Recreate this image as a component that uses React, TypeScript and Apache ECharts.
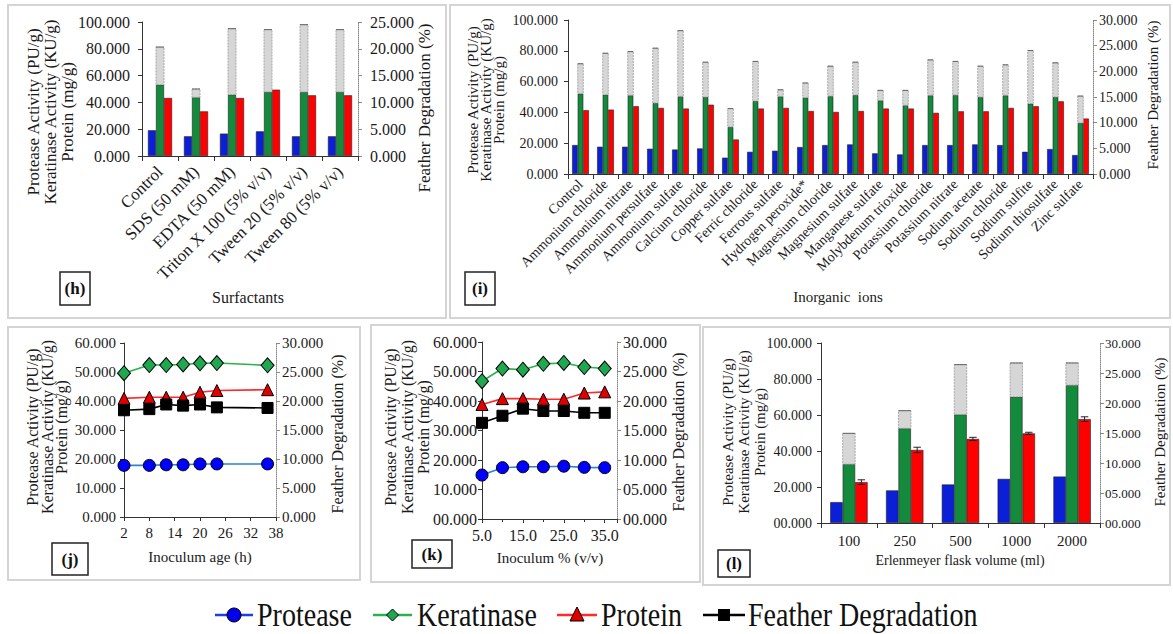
import React, { useEffect, useRef } from "react";
import * as echarts from "echarts";

// ---------- Panel (h) Surfactants ----------
const hCats = ["Control", "SDS (50 mM)", "EDTA (50 mM)", "Triton X 100 (5% v/v)", "Tween 20 (5% v/v)", "Tween 80 (5% v/v)"];
const hProtease = [19.2, 14.7, 16.7, 18.4, 14.7, 14.7];
const hKeratinase = [53.2, 43.8, 45.8, 47.8, 47.8, 47.8];
const hProtein = [43.3, 33.3, 43.3, 49.5, 45.3, 45.3];
const hKeratinaseErrTop = [81.3, 50.0, 95.0, 94.3, 98.0, 94.3];

// ---------- Panel (i) Inorganic ions ----------
const iCats = [
  "Control", "Ammonium chloride", "Ammonium nitrate", "Ammonium persulfate", "Ammonium sulfate",
  "Calcium chloride", "Copper sulfate", "Ferric chloride", "Ferrous sulfate", "Hydrogen peroxide*",
  "Magnesium chloride", "Magnesium sulfate", "Manganese sulfate", "Molybdenum trioxide", "Potassium chloride",
  "Potassium nitrate", "Sodium acetate", "Sodium chloride", "Sodium sulfite", "Sodium thiosulfate", "Zinc sulfate",
];
const iProtease = [18.8, 17.7, 17.7, 16.4, 15.9, 16.6, 10.6, 14.4, 15.1, 17.5, 18.8, 19.2, 13.4, 12.7, 18.8, 18.8, 19.2, 18.8, 14.4, 16.2, 12.3];
const iKeratinase = [52.2, 51.5, 51.1, 46.1, 50.4, 50.0, 30.6, 47.4, 50.4, 49.6, 50.6, 51.3, 47.8, 44.6, 51.1, 51.3, 50.0, 51.1, 45.7, 50.0, 33.2];
const iProtein = [41.4, 41.8, 44.0, 42.9, 42.5, 45.0, 22.4, 42.5, 42.9, 40.9, 40.3, 40.9, 42.5, 42.5, 39.7, 40.7, 40.7, 42.9, 44.0, 47.2, 36.0];
const iKeratinaseErrTop = [71.6, 78.4, 79.5, 81.7, 93.1, 72.6, 42.5, 73.1, 54.7, 59.1, 70.0, 72.6, 54.3, 54.3, 74.1, 73.1, 70.0, 70.9, 80.2, 72.2, 50.6];

// ---------- Panel (j) Inoculum age ----------
const jAge = [2, 8, 12, 16, 20, 24, 36];
const jProtease = [17.8, 17.8, 18.0, 18.0, 18.3, 18.3, 18.3];
const jKeratinase = [49.6, 52.4, 52.4, 52.6, 53.0, 53.1, 52.3];
const jProtein = [40.9, 41.3, 41.3, 41.3, 43.0, 43.6, 43.9];
const jFeather = [18.4, 18.6, 19.4, 19.2, 19.4, 18.9, 18.8];

// ---------- Panel (k) Inoculum % ----------
const kInoculum = [5, 10, 15, 20, 25, 30, 35];
const kProtease = [14.9, 17.4, 17.7, 17.7, 17.9, 17.5, 17.4];
const kKeratinase = [46.7, 51.0, 50.6, 52.6, 52.9, 51.5, 51.0];
const kProtein = [38.8, 40.8, 40.8, 40.6, 40.6, 42.7, 43.1];
const kFeather = [16.3, 17.5, 18.7, 18.3, 18.3, 18.0, 18.0];

// ---------- Panel (l) Erlenmeyer flask volume ----------
const lCats = ["100", "250", "500", "1000", "2000"];
const lProtease = [11.6, 18.1, 21.4, 24.5, 25.8];
const lKeratinase = [32.7, 52.6, 60.3, 70.1, 76.6];
const lProtein = [22.7, 40.6, 46.7, 49.8, 57.7];
const lKeratinaseErrTop = [49.8, 62.4, 88.0, 88.9, 88.9];
const lProteinErr = [1.3, 1.5, 0.9, 0.6, 1.3];

const legendNames = ["Protease", "Keratinase", "Protein", "Feather Degradation"];

const SERIF = "Liberation Serif";
const BLUE = "#0b1fd6";
const GREEN = "#138a3c";
const RED = "#ff0000";
const CAT_GAP = 0.33;

const fmt3 = (v: number) => v.toFixed(3);
const fmtPad = (v: number) => (v < 10 ? "0" + v.toFixed(3) : v.toFixed(3));

function leftY(grid: number, max: number, interval: number, fs: number, margin: number, fmt: (v: number) => string) {
  return {
    gridIndex: grid, type: "value", min: 0, max, interval, position: "left",
    splitLine: { show: false },
    axisLine: { show: true, lineStyle: { color: "#333", width: 1 } },
    axisTick: { show: true, length: 4, lineStyle: { color: "#333" } },
    axisLabel: { fontSize: fs, fontFamily: SERIF, color: "#1a1a1a", margin, formatter: fmt },
  };
}
function rightY(grid: number, max: number, interval: number, fs: number, margin: number, fmt: (v: number) => string) {
  return {
    gridIndex: grid, type: "value", min: 0, max, interval, position: "right",
    splitLine: { show: false },
    axisLine: { show: true, lineStyle: { color: "#888", width: 1, type: "dotted" } },
    axisTick: { show: true, length: 4, lineStyle: { color: "#888" } },
    axisLabel: { fontSize: fs, fontFamily: SERIF, color: "#1a1a1a", margin, formatter: fmt },
  };
}

function barSeries(xi: number, yi: number, name: string, data: number[], color: string) {
  return {
    type: "bar", name, xAxisIndex: xi, yAxisIndex: yi, data,
    barGap: "0%", barCategoryGap: CAT_GAP * 100 + "%",
    itemStyle: { color, borderColor: "#222", borderWidth: 0.6 },
    z: 2,
  };
}

function errBand(xi: number, yi: number, top: number[], base: number[]) {
  return {
    type: "custom", xAxisIndex: xi, yAxisIndex: yi, z: 3,
    data: top.map((t, i) => [i, t, base[i]]),
    encode: { x: 0, y: 1 },
    renderItem: (params: any, api: any) => {
      const ci = api.value(0);
      const p1 = api.coord([ci, api.value(1)]);
      const p0 = api.coord([ci, api.value(2)]);
      const cw = api.size([1, 0])[0];
      const bw = (cw * (1 - CAT_GAP)) / 3;
      return {
        type: "group",
        children: [
          { type: "rect", shape: { x: p1[0] - bw / 2, y: p1[1], width: bw, height: p0[1] - p1[1] },
            style: { fill: "#d6d6d6", stroke: "#999", lineWidth: 0.8, lineDash: [2, 1] } },
          { type: "line", shape: { x1: p1[0] - bw / 2, y1: p1[1], x2: p1[0] + bw / 2, y2: p1[1] },
            style: { stroke: "#666", lineWidth: 1 } },
        ],
      };
    },
  };
}

function smallErr(xi: number, yi: number, vals: number[], errs: number[], offsetBars: number) {
  return {
    type: "custom", xAxisIndex: xi, yAxisIndex: yi, z: 4,
    data: vals.map((v, i) => [i, v, errs[i]]),
    encode: { x: 0, y: 1 },
    renderItem: (params: any, api: any) => {
      const ci = api.value(0);
      const v = api.value(1);
      const e = api.value(2);
      const cw = api.size([1, 0])[0];
      const bw = (cw * (1 - CAT_GAP)) / 3;
      const c = api.coord([ci, v]);
      const x = c[0] + offsetBars * bw;
      const yt = api.coord([ci, v + e])[1];
      const yb = api.coord([ci, v - e])[1];
      const cap = bw * 0.3;
      const st = { stroke: "#222", lineWidth: 1 };
      return {
        type: "group",
        children: [
          { type: "line", shape: { x1: x, y1: yt, x2: x, y2: yb }, style: st },
          { type: "line", shape: { x1: x - cap, y1: yt, x2: x + cap, y2: yt }, style: st },
          { type: "line", shape: { x1: x - cap, y1: yb, x2: x + cap, y2: yb }, style: st },
        ],
      };
    },
  };
}

function lineSeries(xi: number, yi: number, name: string, xs: number[], shift: number, ys: number[], kind: number) {
  const styles = [
    { symbol: "circle", size: 12, line: "#2f7fd6", fill: "#0000ff" },
    { symbol: "diamond", size: [13, 15], line: "#2bb24c", fill: "#1fa84f" },
    { symbol: "triangle", size: 12, line: "#ff2a2a", fill: "#e00000" },
    { symbol: "rect", size: 11, line: "#000000", fill: "#000000" },
  ];
  const s = styles[kind];
  return {
    type: "line", name, xAxisIndex: xi, yAxisIndex: yi,
    data: xs.map((x, i) => [x - shift, ys[i]]),
    symbol: s.symbol, symbolSize: s.size,
    lineStyle: { color: s.line, width: 1.6 },
    itemStyle: { color: s.fill, borderColor: "#000", borderWidth: 1 },
    z: 5 + kind,
  };
}

function frame(x: number, y: number, w: number, h: number) {
  return { type: "rect", shape: { x, y, width: w, height: h }, style: { fill: "none", stroke: "#d4d4d4", lineWidth: 2 }, z: 0 };
}
function tagBox(x: number, y: number, w: number, h: number, label: string) {
  return [
    { type: "rect", shape: { x, y, width: w, height: h }, style: { fill: "#fff", stroke: "#222", lineWidth: 1.5 }, z: 10 },
    { type: "text", x: x + w / 2, y: y + h / 2, style: { text: label, fontSize: 17, fontWeight: "bold", fontFamily: SERIF, fill: "#111", align: "center", verticalAlign: "middle" }, z: 11 },
  ];
}
function vText(x: number, y: number, text: string, fs: number, lh: number) {
  return {
    type: "text", x, y, rotation: Math.PI / 2, z: 10,
    style: { text, fontSize: fs, lineHeight: lh, fontFamily: SERIF, fill: "#1a1a1a", align: "center", verticalAlign: "middle" },
  };
}
function hText(x: number, y: number, text: string, fs: number) {
  return {
    type: "text", x, y, z: 10,
    style: { text, fontSize: fs, fontFamily: SERIF, fill: "#1a1a1a", align: "center", verticalAlign: "middle" },
  };
}

const LEFT_TITLE = "Protease Activity (PU/g)\nKeratinase Activity (KU/g)\nProtein (mg/g)";
const RIGHT_TITLE = "Feather Degradation (%)";

function legendGraphics() {
  const cy = 615;
  const items: any[] = [];
  const defs = [
    { x1: 215, x2: 253, text: 257, color: "#1f3fe0", kind: 0 },
    { x1: 373, x2: 412, text: 417, color: "#2bb24c", kind: 1 },
    { x1: 557, x2: 597, text: 601, color: "#ff2a2a", kind: 2 },
    { x1: 703, x2: 745, text: 748, color: "#000", kind: 3 },
  ];
  defs.forEach((d, i) => {
    const cx = (d.x1 + d.x2) / 2;
    items.push({ type: "line", shape: { x1: d.x1, y1: cy, x2: d.x2, y2: cy }, style: { stroke: d.color, lineWidth: 2.5 }, z: 10 });
    if (d.kind === 0) items.push({ type: "circle", shape: { cx, cy, r: 7 }, style: { fill: "#0000ee", stroke: "#000", lineWidth: 1 }, z: 11 });
    if (d.kind === 1) items.push({ type: "polygon", shape: { points: [[cx, cy - 6], [cx + 6, cy], [cx, cy + 6], [cx - 6, cy]] }, style: { fill: "#1fa84f", stroke: "#000", lineWidth: 1 }, z: 11 });
    if (d.kind === 2) items.push({ type: "polygon", shape: { points: [[cx, cy - 8], [cx + 7, cy + 6], [cx - 7, cy + 6]] }, style: { fill: "#e00000", stroke: "#000", lineWidth: 1 }, z: 11 });
    if (d.kind === 3) items.push({ type: "rect", shape: { x: cx - 6, y: cy - 6, width: 12, height: 12 }, style: { fill: "#000" }, z: 11 });
    items.push({ type: "text", x: d.text, y: cy, scaleX: 0.85, z: 11, style: { text: legendNames[i], fontSize: 33, fontFamily: SERIF, fill: "#111", align: "left", verticalAlign: "middle" } });
  });
  return items;
}

function buildOption() {
  const grid = [
    { left: 142, top: 22, width: 216, height: 134 },
    { left: 568, top: 20, width: 525, height: 154 },
    { left: 124, top: 343, width: 152, height: 174 },
    { left: 482, top: 342, width: 135, height: 177 },
    { left: 821, top: 343, width: 279, height: 180 },
  ];
  const catAxisBase = (gi: number, data: string[], fs: number, rotate: number, margin: number) => ({
    gridIndex: gi, type: "category", data,
    axisLine: { show: true, lineStyle: { color: "#333" } },
    axisTick: { show: true, length: 5, lineStyle: { color: "#333" } },
    axisLabel: { interval: 0, rotate, fontSize: fs, fontFamily: SERIF, color: "#1a1a1a", margin },
  });
  const xAxis = [
    catAxisBase(0, hCats, 17, 45, 13),
    catAxisBase(1, iCats, 14, 45, 8),
    {
      gridIndex: 2, type: "value", min: 0, max: 36, interval: 6,
      splitLine: { show: false },
      axisLine: { show: true, onZero: false, lineStyle: { color: "#333" } },
      axisTick: { show: true, length: 4, lineStyle: { color: "#333" } },
      axisLabel: { fontSize: 15, fontFamily: SERIF, color: "#1a1a1a", margin: 8, formatter: (v: number) => String(v + 2) },
    },
    {
      gridIndex: 3, type: "value", min: 0, max: 33, interval: 10,
      splitLine: { show: false },
      axisLine: { show: true, onZero: false, lineStyle: { color: "#333" } },
      axisTick: { show: true, length: 4, lineStyle: { color: "#333" } },
      minorTick: { show: true, splitNumber: 2, length: 3, lineStyle: { color: "#333" } },
      axisLabel: { fontSize: 16, fontFamily: SERIF, color: "#1a1a1a", margin: 8, showMaxLabel: false,
        formatter: (v: number) => (Math.abs(v % 10) < 1e-6 ? (v + 5).toFixed(1) : "") },
    },
    catAxisBase(4, lCats, 15, 0, 10),
  ];
  const yAxis = [
    leftY(0, 100, 20, 16, 12, fmt3), rightY(0, 25, 5, 16, 12, fmt3),
    leftY(1, 100, 20, 14, 10, fmt3), rightY(1, 30, 5, 14, 6, fmt3),
    leftY(2, 60, 10, 15, 8, fmt3), rightY(2, 30, 5, 15, 6, fmt3),
    leftY(3, 60, 10, 16, 5, fmtPad), rightY(3, 30, 5, 16, 6, fmtPad),
    leftY(4, 100, 20, 14, 9, fmtPad), rightY(4, 30, 5, 13, 5, fmtPad),
  ];
  const series: any[] = [
    barSeries(0, 0, "Protease", hProtease, BLUE),
    barSeries(0, 0, "Keratinase", hKeratinase, GREEN),
    barSeries(0, 0, "Protein", hProtein, RED),
    errBand(0, 0, hKeratinaseErrTop, hKeratinase),

    barSeries(1, 2, "Protease", iProtease, BLUE),
    barSeries(1, 2, "Keratinase", iKeratinase, GREEN),
    barSeries(1, 2, "Protein", iProtein, RED),
    errBand(1, 2, iKeratinaseErrTop, iKeratinase),

    lineSeries(2, 4, "Protease", jAge, 2, jProtease, 0),
    lineSeries(2, 4, "Keratinase", jAge, 2, jKeratinase, 1),
    lineSeries(2, 4, "Protein", jAge, 2, jProtein, 2),
    lineSeries(2, 5, "Feather Degradation", jAge, 2, jFeather, 3),

    lineSeries(3, 6, "Protease", kInoculum, 5, kProtease, 0),
    lineSeries(3, 6, "Keratinase", kInoculum, 5, kKeratinase, 1),
    lineSeries(3, 6, "Protein", kInoculum, 5, kProtein, 2),
    lineSeries(3, 7, "Feather Degradation", kInoculum, 5, kFeather, 3),

    barSeries(4, 8, "Protease", lProtease, BLUE),
    barSeries(4, 8, "Keratinase", lKeratinase, GREEN),
    barSeries(4, 8, "Protein", lProtein, RED),
    errBand(4, 8, lKeratinaseErrTop, lKeratinase),
    smallErr(4, 8, lProtein, lProteinErr, 1),
  ];

  const graphic: any[] = [
    frame(8, 5, 438, 313),
    frame(450, 5, 720, 313),
    frame(8, 327, 352, 253),
    frame(371, 325, 329, 257),
    frame(703, 327, 467, 258),
    ...tagBox(60, 272, 30, 33, "(h)"),
    ...tagBox(465, 272, 30, 33, "(i)"),
    ...tagBox(52, 543, 36, 32, "(j)"),
    ...tagBox(412, 540, 40, 28, "(k)"),
    ...tagBox(718, 550, 32, 27, "(l)"),
    vText(50, 112, LEFT_TITLE, 17, 17),
    vText(424, 108, RIGHT_TITLE, 17, 17),
    vText(486, 100, LEFT_TITLE, 15, 13),
    vText(1153, 95, RIGHT_TITLE, 15, 15),
    vText(47, 427, LEFT_TITLE, 16, 14.5),
    vText(337, 434, RIGHT_TITLE, 16, 15),
    vText(407, 427, LEFT_TITLE, 16, 16.5),
    vText(678, 432, RIGHT_TITLE, 16, 15),
    vText(744, 432, LEFT_TITLE, 15, 16),
    vText(1160, 432, RIGHT_TITLE, 15, 15),
    hText(248, 297, "Surfactants", 16),
    hText(838, 297, "Inorganic  ions", 15),
    hText(200, 557, "Inoculum age (h)", 15),
    hText(550, 558, "Inoculum % (v/v)", 15),
    hText(960, 560, "Erlenmeyer flask volume (ml)", 14),
    ...legendGraphics(),
  ];

  return { animation: false, backgroundColor: "#ffffff", textStyle: { fontFamily: SERIF }, grid, xAxis, yAxis, series, graphic };
}

export default function App() {
  const ref = useRef<HTMLDivElement>(null);
  useEffect(() => {
    if (!ref.current) return;
    const chart = echarts.init(ref.current, undefined, { renderer: "svg" });
    chart.setOption(buildOption() as any);
    return () => chart.dispose();
  }, []);
  return (
    <div
      ref={ref}
      style={{ position: "fixed", left: 0, top: 0, width: 1173, height: 634, background: "#fff", fontFamily: "Liberation Serif, serif" }}
    />
  );
}
